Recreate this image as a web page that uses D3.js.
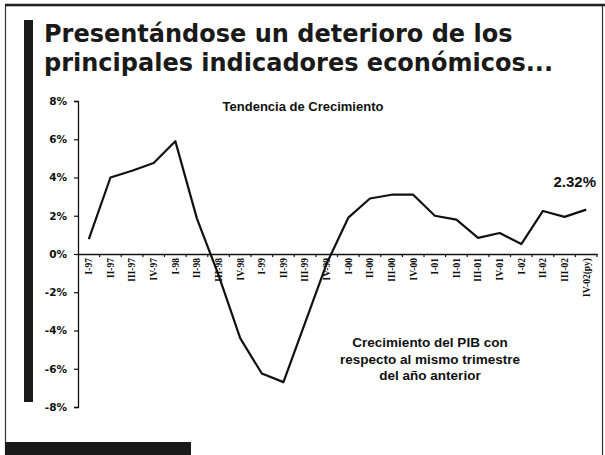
<!DOCTYPE html>
<html>
<head>
<meta charset="utf-8">
<script src="https://cdn.jsdelivr.net/npm/d3@7"></script>
<style>
  body { margin: 0; background: #fff; }
</style>
</head>
<body>
<div id="chart"></div>
<script>
var width = 605, height = 455;

// trimestres y crecimiento del PIB (% respecto al mismo trimestre del año anterior)
var quarters = ["I-97", "II-97", "III-97", "IV-97", "I-98", "II-98", "III-98", "IV-98",
                "I-99", "II-99", "III-99", "IV-99", "I-00", "II-00", "III-00", "IV-00",
                "I-01", "II-01", "III-01", "IV-01", "I-02", "II-02", "III-02", "IV-02(py)"];
var growth = [0.78, 4.0, 4.35, 4.76, 5.9, 1.85, -1.1, -4.4,
              -6.25, -6.7, -3.6, -0.5, 1.9, 2.9, 3.1, 3.1,
              2.0, 1.8, 0.84, 1.1, 0.52, 2.25, 1.94, 2.32];
var yTicks = [8, 6, 4, 2, 0, -2, -4, -6, -8];
var titleLines = ["Presentándose un deterioro de los", "principales indicadores económicos..."];
var subtitle = "Tendencia de Crecimiento";
var noteLines = ["Crecimiento del PIB con", "respecto al mismo trimestre", "del año anterior"];
var lastLabel = "2.32%";

var svg = d3.select("#chart").append("svg")
            .attr("width", width).attr("height", height)
            .style("display", "block")
            .style("background", "#fff");

// marco de la diapositiva
svg.append("rect")
   .attr("x", 5.5).attr("y", 5.5)
   .attr("width", 597).attr("height", 452)
   .attr("fill", "none").attr("stroke", "#333").attr("stroke-width", 1.2);
svg.append("line")
   .attr("x1", 5).attr("x2", 605).attr("y1", 5).attr("y2", 5)
   .attr("stroke", "#222").attr("stroke-width", 2.5);
svg.append("rect")
   .attr("x", 24).attr("y", 20).attr("width", 9).attr("height", 382)
   .attr("fill", "#1a1a1a");
svg.append("rect")
   .attr("x", 5).attr("y", 442).attr("width", 186).attr("height", 13)
   .attr("fill", "#1a1a1a");

// titulo
svg.append("g").selectAll("text").data(titleLines).enter().append("text")
   .attr("x", 44)
   .attr("y", function(d, i){ return 42 + i * 29; })
   .style("font-family", "'DejaVu Sans', Verdana, sans-serif")
   .style("font-weight", "bold")
   .style("font-size", "24px")
   .style("fill", "#1a1a1a")
   .text(function(d){ return d; });

// escalas
var x = d3.scaleBand().domain(quarters).range([78, 597]);
var y = d3.scaleLinear().domain([-8, 8]).range([407, 101]);
var bw = x.bandwidth();

// eje y
var yAxis = d3.axisLeft(y).tickValues(yTicks).tickSize(4).tickPadding(7)
              .tickFormat(function(d){ return d + "%"; });
var gy = svg.append("g").attr("transform", "translate(78,0)").call(yAxis);
gy.select(".domain").attr("stroke", "#111").attr("stroke-width", 1.3);
gy.selectAll(".tick line").attr("stroke", "#111").attr("stroke-width", 1.2);
gy.selectAll(".tick text")
  .style("font-family", "'DejaVu Sans', Verdana, sans-serif")
  .style("font-weight", "bold")
  .style("font-size", "10.5px")
  .style("fill", "#111");

// eje x en 0%
var xAxis = d3.axisBottom(x).tickSize(0);
var gx = svg.append("g").attr("transform", "translate(0," + y(0) + ")").call(xAxis);
gx.select(".domain").attr("stroke", "#111").attr("stroke-width", 1.3);
gx.selectAll(".tick text")
  .attr("transform", "rotate(-90)")
  .attr("x", -4).attr("y", 0).attr("dy", "0.35em")
  .style("text-anchor", "end")
  .style("font-family", "'Liberation Serif', 'Times New Roman', serif")
  .style("font-weight", "bold")
  .style("font-size", "9.5px")
  .style("fill", "#111");

// marcas entre trimestres
gx.append("g").selectAll("line").data(quarters.slice(1).concat(["end"])).enter().append("line")
  .attr("x1", function(d){ return d === "end" ? x.range()[1] : x(d); })
  .attr("x2", function(d){ return d === "end" ? x.range()[1] : x(d); })
  .attr("y1", 0).attr("y2", 3)
  .attr("stroke", "#111").attr("stroke-width", 1.2);

// linea de crecimiento
var pts = quarters.map(function(q, i){ return [q, growth[i]]; });
var line = d3.line()
             .x(function(d){ return x(d[0]) + bw / 2; })
             .y(function(d){ return y(d[1]); });
svg.append("path").datum(pts)
   .attr("d", line)
   .attr("fill", "none")
   .attr("stroke", "#111")
   .attr("stroke-width", 2.2)
   .attr("stroke-linejoin", "round");

// textos
svg.append("text")
   .attr("x", 303).attr("y", 111)
   .attr("text-anchor", "middle")
   .style("font-family", "'Liberation Sans', Arial, sans-serif")
   .style("font-weight", "bold")
   .style("font-size", "13px")
   .style("fill", "#111")
   .text(subtitle);

svg.append("text")
   .attr("x", 596).attr("y", 187)
   .attr("text-anchor", "end")
   .style("font-family", "'Liberation Sans', Arial, sans-serif")
   .style("font-weight", "bold")
   .style("font-size", "15px")
   .style("fill", "#111")
   .text(lastLabel);

svg.append("g").selectAll("text").data(noteLines).enter().append("text")
   .attr("x", 430)
   .attr("y", function(d, i){ return 347 + i * 16.5; })
   .attr("text-anchor", "middle")
   .style("font-family", "'Liberation Sans', Arial, sans-serif")
   .style("font-weight", "bold")
   .style("font-size", "13.5px")
   .style("fill", "#111")
   .text(function(d){ return d; });
</script>
</body>
</html>
